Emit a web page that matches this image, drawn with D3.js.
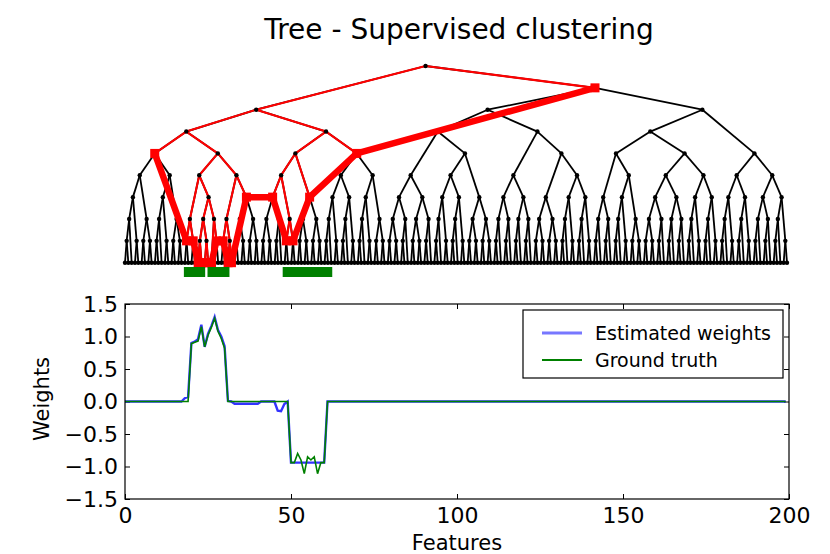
<!DOCTYPE html>
<html><head><meta charset="utf-8">
<script src="https://cdn.jsdelivr.net/npm/d3@7"></script>
<style>
body{margin:0;background:#fff}
svg{display:block}
text{font-family:"DejaVu Sans",sans-serif;fill:#000}
</style></head>
<body><svg id="chart" width="830" height="554"></svg>
<script>
// ---------------- data ----------------
const titleText = "Tree - Supervised clustering";
const seriesNames = ["Estimated weights", "Ground truth"];
const xTicks = [0, 50, 100, 150, 200];
const yTicks = [-1.5, -1.0, -0.5, 0.0, 0.5, 1.0, 1.5];
const xLabel = "Features";
const yLabel = "Weights";

// Ground truth weights, features 0..199
const groundTruth = [
 0,0,0,0,0,0,0,0,0,0,0,0,0,0,0,0,0,0,0,0,
 0.89,0.91,0.93,1.15,0.84,1.02,1.14,1.28,1.08,0.97,0.82,0,0,0,0,0,0,0,0,0,
 0,0,0,0,0,0,0,0,0,0,-0.94,-0.94,-0.80,-0.90,-1.11,-0.85,-0.90,-0.85,-1.11,-0.94,
 -0.94,0,0,0,0,0,0,0,0,0,0,0,0,0,0,0,0,0,0,0,
 0,0,0,0,0,0,0,0,0,0,0,0,0,0,0,0,0,0,0,0,
 0,0,0,0,0,0,0,0,0,0,0,0,0,0,0,0,0,0,0,0,
 0,0,0,0,0,0,0,0,0,0,0,0,0,0,0,0,0,0,0,0,
 0,0,0,0,0,0,0,0,0,0,0,0,0,0,0,0,0,0,0,0,
 0,0,0,0,0,0,0,0,0,0,0,0,0,0,0,0,0,0,0,0,
 0,0,0,0,0,0,0,0,0,0,0,0,0,0,0,0,0,0,0,0
];
// Estimated weights, features 0..199
const estimated = [
 0,0,0,0,0,0,0,0,0,0,0,0,0,0,0,0,0,0,0.05,0.07,
 0.90,0.92,0.96,1.18,0.84,1.04,1.16,1.30,1.10,1.00,0.85,0.01,0,-0.035,-0.035,-0.035,-0.035,-0.035,-0.035,-0.035,
 -0.035,0,0,0,0,0,-0.14,-0.15,-0.04,0,-0.94,-0.94,-0.94,-0.94,-0.94,-0.94,-0.94,-0.94,-0.94,-0.94,
 -0.94,0,0,0,0,0,0,0,0,0,0,0,0,0,0,0,0,0,0,0,
 0,0,0,0,0,0,0,0,0,0,0,0,0,0,0,0,0,0,0,0,
 0,0,0,0,0,0,0,0,0,0,0,0,0,0,0,0,0,0,0,0,
 0,0,0,0,0,0,0,0,0,0,0,0,0,0,0,0,0,0,0,0,
 0,0,0,0,0,0,0,0,0,0,0,0,0,0,0,0,0,0,0,0,
 0,0,0,0,0,0,0,0,0,0,0,0,0,0,0,0,0,0,0,0,
 0,0,0,0,0,0,0,0,0,0,0,0,0,0,0,0,0,0,0,0
];

// Tree over the 200 features: nested pairs; "a:b" = contiguous block of leaves (binary split), number = single leaf
const treeSpec = [
  [ // left subtree
    [ "0:17",
      [ [ ["18:19","20:21"], [ ["22:23","24:25"], [26,"27:28"] ] ],
        [ ["29:30","31:32"], "33:40" ] ] ],
    [ [ [ "41:47", ["48:49","50:51"] ], "52:59" ], "60:78" ]
  ],
  [ // right subtree
    [ [ "79:92", ["93:102","103:110"] ],
      [ "111:122", ["123:130","131:140"] ] ],
    [ [ ["141:146","147:155"], ["156:168","169:178"] ],
      [ "179:188", "189:199" ] ]
  ]
];
// Selected clusters (cut of the tree), as leaf ranges
const cutClusters = ["0:17","18:19","20:21","22","23","24","25","26","27:28","29:30","31","32",
                     "33:40","41:47","48:49","50:51","52:59","60:78","79:199"];
// Ground-truth support bars under the tree (feature units)
const supportBars = [[17.7,24.1],[24.8,31.4],[47.4,62.3]];

// ---------------- build tree ----------------
function leaf(i){ return {lo:i,hi:i,h:0,x:i,children:[]}; }
function join(a,b){ return {lo:Math.min(a.lo,b.lo),hi:Math.max(a.hi,b.hi),h:Math.max(a.h,b.h)+1,x:(a.x+b.x)/2,children:[a,b]}; }
function block(a,b){
  if(a===b) return leaf(a);
  const n=b-a+1, m=a+Math.ceil(n/2)-1;
  return join(block(a,m), block(m+1,b));
}
function build(s){
  if(typeof s==="number") return leaf(s);
  if(typeof s==="string"){ const [a,b]=s.split(":").map(Number); return block(a,b); }
  return join(build(s[0]), build(s[1]));
}
const root = build(treeSpec);
const cutSet = new Set(cutClusters.map(c=>{const p=c.split(":").map(Number);return p[0]+":"+(p.length>1?p[1]:p[0]);}));
function mark(n){
  if(cutSet.has(n.lo+":"+n.hi)){ n.cut=true; n.red=true; return true; }
  let r=false; n.children.forEach(c=>{ if(mark(c)) r=true; }); n.red=r; return r;
}
mark(root);
const nodes=[], edges=[];
(function walk(n){ nodes.push(n); n.children.forEach(c=>{edges.push({p:n,c:c}); walk(c);}); })(root);
const cutNodes = nodes.filter(n=>n.cut).sort((a,b)=>a.lo-b.lo);

// ---------------- draw ----------------
const svg = d3.select("#chart");
svg.append("rect").attr("width",830).attr("height",554).attr("fill","#fff");

svg.append("text").attr("x",459).attr("y",39).attr("text-anchor","middle")
  .style("font-size","28px").text(titleText);

const xT = d3.scaleLinear().domain([0,199]).range([125,787]);
const yT = d3.scaleLinear().domain([0,9]).range([262.7,66]);
const gT = svg.append("g");

gT.append("g").selectAll("line").data(edges).join("line")
  .attr("x1",d=>xT(d.p.x)).attr("y1",d=>yT(d.p.h))
  .attr("x2",d=>xT(d.c.x)).attr("y2",d=>yT(d.c.h))
  .attr("stroke","#000").attr("stroke-width",1.8);
gT.append("g").selectAll("line").data(edges.filter(e=>e.c.red)).join("line")
  .attr("x1",d=>xT(d.p.x)).attr("y1",d=>yT(d.p.h))
  .attr("x2",d=>xT(d.c.x)).attr("y2",d=>yT(d.c.h))
  .attr("stroke","#ff0000").attr("stroke-width",2.1);
gT.append("g").selectAll("circle").data(nodes).join("circle")
  .attr("cx",d=>xT(d.x)).attr("cy",d=>yT(d.h)).attr("r",2.2).attr("fill","#000");
gT.append("path").datum(cutNodes)
  .attr("d",d3.line().x(d=>xT(d.x)).y(d=>yT(d.h)))
  .attr("fill","none").attr("stroke","#ff0000").attr("stroke-width",6.5).attr("stroke-linejoin","miter");
gT.append("g").selectAll("rect").data(cutNodes).join("rect")
  .attr("x",d=>xT(d.x)-4.5).attr("y",d=>yT(d.h)-4.5).attr("width",9).attr("height",9).attr("fill","#ff0000");
gT.append("g").selectAll("rect").data(supportBars).join("rect")
  .attr("x",d=>xT(d[0])).attr("width",d=>xT(d[1])-xT(d[0]))
  .attr("y",267).attr("height",10).attr("fill","#008000");

// bottom plot
const x = d3.scaleLinear().domain([0,200]).range([125,789]);
const y = d3.scaleLinear().domain([-1.5,1.5]).range([499,304]);
const fmt = d => d3.format(".1f")(d).replace("-","\u2212");
const tickStyle = g => { g.select(".domain").remove(); g.selectAll(".tick line").attr("stroke","#000"); g.selectAll("text").style("font-size","22px").attr("fill","#000"); };

svg.append("g").attr("transform","translate(0,499)")
  .call(d3.axisBottom(x).tickValues(xTicks).tickSize(-5).tickPadding(8).tickFormat(d3.format("d"))).call(tickStyle);
svg.append("g").attr("transform","translate(0,304)")
  .call(d3.axisTop(x).tickValues(xTicks).tickSize(-5).tickFormat("")).call(tickStyle);
svg.append("g").attr("transform","translate(125,0)")
  .call(d3.axisLeft(y).tickValues(yTicks).tickSize(-5).tickPadding(7).tickFormat(fmt)).call(tickStyle);
svg.append("g").attr("transform","translate(789,0)")
  .call(d3.axisRight(y).tickValues(yTicks).tickSize(-5).tickFormat("")).call(tickStyle);

const idx = d3.range(groundTruth.length);
const line = arr => d3.line().x(i=>x(i)).y(i=>y(arr[i]))(idx);
svg.append("path").attr("d",line(estimated)).attr("fill","none")
  .attr("stroke","#0000ff").attr("stroke-opacity",0.8).attr("stroke-width",2.4);
svg.append("path").attr("d",line(groundTruth)).attr("fill","none")
  .attr("stroke","#008000").attr("stroke-width",1.6);

svg.append("rect").attr("x",125).attr("y",304).attr("width",664).attr("height",195)
  .attr("fill","none").attr("stroke","#000").attr("stroke-width",1.2);

// legend
const lg = svg.append("g");
lg.append("rect").attr("x",523).attr("y",310).attr("width",260).attr("height",68)
  .attr("fill","#fff").attr("stroke","#000").attr("stroke-width",1.2);
const legendColors = ["#7777ff","#008000"], legendWidths=[3,1.8];
seriesNames.forEach((s,i)=>{
  const yy = 333 + i*27;
  lg.append("line").attr("x1",542).attr("x2",582).attr("y1",yy).attr("y2",yy)
    .attr("stroke",legendColors[i]).attr("stroke-width",legendWidths[i]);
  lg.append("text").attr("x",595).attr("y",yy+7).style("font-size","19px").text(s);
});

svg.append("text").attr("x",457).attr("y",550).attr("text-anchor","middle").style("font-size","21px").text(xLabel);
svg.append("text").attr("transform","translate(49,399) rotate(-90)").attr("text-anchor","middle").style("font-size","21px").text(yLabel);
</script>
</body></html>
